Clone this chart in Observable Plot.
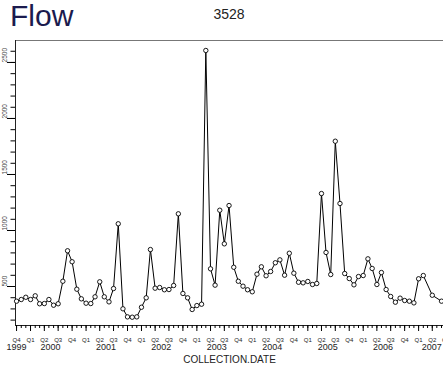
<!DOCTYPE html>
<html><head><meta charset="utf-8">
<script src="https://cdn.jsdelivr.net/npm/d3@7"></script>
<script src="https://cdn.jsdelivr.net/npm/@observablehq/plot@0.6"></script>
<style>
body{margin:0;background:#fff;font-family:"Liberation Sans",Arial,sans-serif;}
#wrap{position:relative;width:443px;height:369px;overflow:hidden;}
#title{position:absolute;left:10px;top:1px;font-size:30px;color:#1b1b4e;line-height:1;}
#sub{position:absolute;left:0;width:458px;text-align:center;top:7px;font-size:14px;color:#222;line-height:1;}
#chart{position:absolute;left:0;top:0;}
</style></head><body>
<div id="wrap"><div id="chart"></div><div id="title">Flow</div><div id="sub">3528</div></div>
<script>
// Monthly sampling dates: Oct 1999 .. Feb 2007, then Apr 2007, Jun 2007
const months = d3.utcMonth.range(new Date(Date.UTC(1999, 9, 1)), new Date(Date.UTC(2007, 2, 1)))
  .concat([new Date(Date.UTC(2007, 3, 1)), new Date(Date.UTC(2007, 5, 1))]);
const flow = [
  369,384,404,384,417,346,348,384,333,346,
  547,819,721,476,390,351,348,408,542,408,
  363,482,1060,301,229,226,229,315,399,830,
  485,491,471,473,509,1149,438,399,295,330,
  342,2607,658,512,1181,881,1223,672,547,503,
  471,453,610,676,596,634,712,738,601,797,
  619,538,533,545,518,527,1330,804,607,1797,
  1241,616,571,515,589,598,747,661,518,625,
  473,411,360,396,375,369,354,569,598,422,
  369
];
const yMajor = [500, 1000, 1500, 2000, 2500];
const yMinor = d3.range(200, 2700, 100);
const quarterNames = ["Q1", "Q2", "Q3", "Q4"];
const yearLabels = ["1999", "2000", "2001", "2002", "2003", "2004", "2005", "2006", "2007"];
const yearLabelDates = ["1999-10-01", "2000-05-12", "2001-05-12", "2002-05-12", "2003-05-12", "2004-05-12", "2005-05-12", "2006-05-12", "2007-03-28"].map(s => new Date(s));
const xDomain = [new Date("1999-09-24"), new Date("2007-06-14")];
const yDomain = [152, 2696];

const data = months.map((d, i) => ({date: d, flow: flow[i]}));
const monthTicks = d3.utcMonth.range(new Date(Date.UTC(1999, 9, 1)), new Date(Date.UTC(2007, 7, 1)));
const quarterTicks = monthTicks.filter(d => d.getUTCMonth() % 3 === 0);

const plot = Plot.plot({
  width: 443, height: 369,
  marginTop: 40, marginBottom: 44, marginLeft: 15, marginRight: 0,
  style: {background: "transparent", fontFamily: "Liberation Sans, Arial, sans-serif", color: "#222"},
  x: {type: "utc", domain: xDomain},
  y: {domain: yDomain},
  marks: [
    Plot.ruleY([yDomain[1]], {stroke: "#777", strokeWidth: 1}),
    Plot.ruleY([yDomain[0]], {stroke: "#222", strokeWidth: 1}),
    Plot.ruleX([xDomain[0]], {stroke: "#222", strokeWidth: 1}),
    Plot.axisX(monthTicks, {anchor: "bottom", tickSize: 3, tickFormat: () => "", label: null, stroke: "#000", strokeWidth: 1, strokeOpacity: 1}),
    Plot.axisX(quarterTicks, {anchor: "bottom", tickSize: 6, tickPadding: 6, fontSize: 6, stroke: "#000", strokeWidth: 1, strokeOpacity: 1,
      tickFormat: d => quarterNames[Math.floor(d.getUTCMonth() / 3)], label: null}),
    Plot.text(yearLabelDates, {x: d => d, text: (d, i) => yearLabels[i], frameAnchor: "bottom", dy: 24.5, fontSize: 9, fill: "#222"}),
    Plot.text(["COLLECTION.DATE"], {frameAnchor: "bottom", dy: 37, fontSize: 10, fill: "#222"}),
    Plot.axisY(yMinor, {anchor: "left", tickSize: 4.5, tickFormat: () => "", label: null, stroke: "#000", strokeWidth: 1, strokeOpacity: 1}),
    Plot.axisY(yMajor, {anchor: "left", tickSize: 8, tickFormat: () => "", label: null, stroke: "#000", strokeWidth: 1, strokeOpacity: 1}),
    Plot.text(yMajor, {y: d => d, text: d => String(d), frameAnchor: "left", dx: -11, rotate: -90, fontSize: 6.5, fill: "#444"}),
    Plot.line(data, {x: "date", y: "flow", stroke: "black", strokeWidth: 1}),
    Plot.dot(data, {x: "date", y: "flow", r: 2.2, stroke: "black", fill: "white", strokeWidth: 0.9})
  ]
});
document.getElementById("chart").appendChild(plot);
</script>
</body></html>
